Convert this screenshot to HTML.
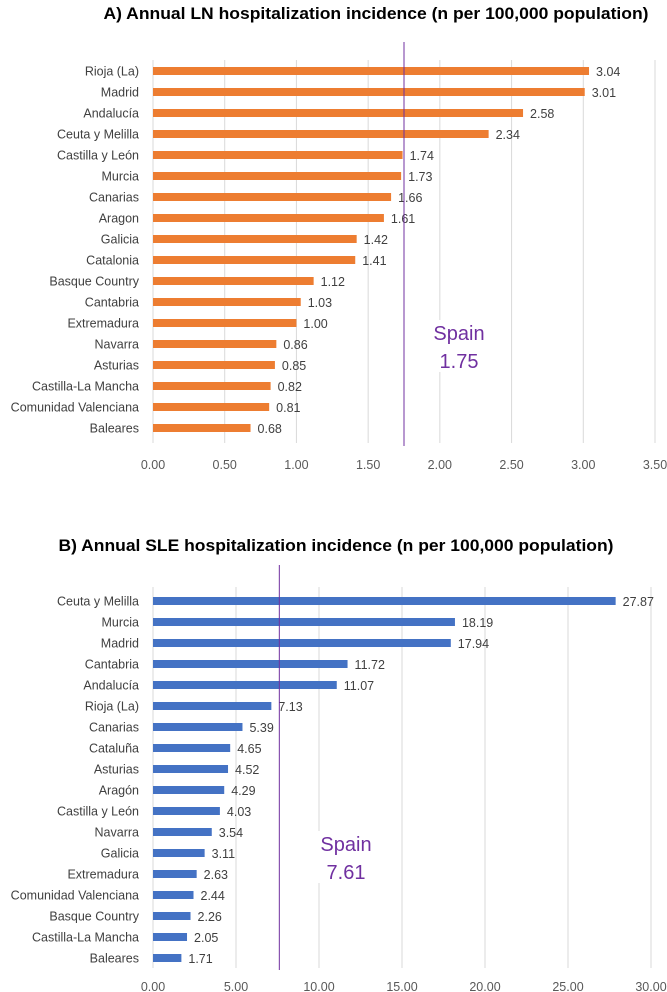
<!DOCTYPE html>
<html><head><meta charset="utf-8"><style>
html,body{margin:0;padding:0;background:#fff;}
svg{display:block;font-family:"Liberation Sans",sans-serif;}
</style></head><body>
<svg id="chart" width="667" height="992" viewBox="0 0 667 992" xmlns="http://www.w3.org/2000/svg"></svg>
<script>
const catsA = ["Rioja (La)","Madrid","Andalucía","Ceuta y Melilla","Castilla y León","Murcia","Canarias","Aragon","Galicia","Catalonia","Basque Country","Cantabria","Extremadura","Navarra","Asturias","Castilla-La Mancha","Comunidad Valenciana","Baleares"];
const valsA = [3.04,3.01,2.58,2.34,1.74,1.73,1.66,1.61,1.42,1.41,1.12,1.03,1.00,0.86,0.85,0.82,0.81,0.68];
const ticksA = [0,0.5,1,1.5,2,2.5,3,3.5];
const spainA = 1.75;
const catsB = ["Ceuta y Melilla","Murcia","Madrid","Cantabria","Andalucía","Rioja (La)","Canarias","Cataluña","Asturias","Aragón","Castilla y León","Navarra","Galicia","Extremadura","Comunidad Valenciana","Basque Country","Castilla-La Mancha","Baleares"];
const valsB = [27.87,18.19,17.94,11.72,11.07,7.13,5.39,4.65,4.52,4.29,4.03,3.54,3.11,2.63,2.44,2.26,2.05,1.71];
const ticksB = [0,5,10,15,20,25,30];
const spainB = 7.61;

const NS="http://www.w3.org/2000/svg";
const svg=document.getElementById('chart');
function mk(tag,attrs,parent){const e=document.createElementNS(NS,tag);for(const k in attrs)e.setAttribute(k,attrs[k]);(parent||svg).appendChild(e);return e;}

function drawChart(o){
  const g=mk('g',{});
  
  
  const x=v=>o.x0+(v-o.min)/(o.max-o.min)*(o.x1-o.x0);
  const y=i=>o.y0+i*o.step;
  const t=mk('text',{x:o.tx,y:o.ty,'text-anchor':'middle','font-size':17,'font-weight':'bold',fill:'#000',textLength:o.tw,lengthAdjust:'spacingAndGlyphs'},g);
  t.textContent=o.title;
  
  
  o.ticks.forEach(v=>{
    const l=mk('line',{x1:x(v),x2:x(v),y1:o.gTop,y2:o.gBot,stroke:'#d9d9d9','stroke-width':1},g);
    
    
    const tl=mk('text',{x:x(v),y:o.axY,'text-anchor':'middle','font-size':12.5,fill:'#595959'},g);
    tl.textContent=v.toFixed(2);
    
    
  });
  o.cats.forEach((c,i)=>{
    const cy=y(i);
    const lab=mk('text',{x:139,y:cy+4.5,'text-anchor':'end','font-size':12.5,fill:'#404040'},g);
    lab.textContent=c;
    
    
    const b=mk('rect',{x:x(0),y:cy-4,width:x(o.vals[i])-x(0),height:8,fill:o.color},g);
    
    
    const vl=mk('text',{x:x(o.vals[i])+7,y:cy+5,'font-size':12.5,fill:'#404040'},g);
    vl.textContent=o.vals[i].toFixed(2);
    
    
  });
  const sl=mk('line',{x1:x(o.spain),x2:x(o.spain),y1:o.sTop,y2:o.sBot,stroke:'#7030a0','stroke-width':1},g);
  
  
  mk('rect',{x:o.spx-28,y:o.spy-20,width:56,height:52,fill:'#fff'},g);
  const s1=mk('text',{x:o.spx,y:o.spy,'text-anchor':'middle','font-size':20,fill:'#7030a0'},g);
  s1.textContent='Spain';
  
  
  const s2=mk('text',{x:o.spx,y:o.spy+28,'text-anchor':'middle','font-size':20,fill:'#7030a0'},g);
  s2.textContent=o.spain.toFixed(2);
  
  
}

drawChart({id:'ln',title:'A) Annual LN hospitalization incidence (n per 100,000 population)',tx:376,ty:19,tw:545,
  cats:catsA,vals:valsA,ticks:ticksA,min:0,max:3.5,x0:153,x1:655,y0:71,step:21.0,gTop:60,gBot:443,axY:469,
  color:'#ed7d31',spain:spainA,sTop:42,sBot:446,spx:459,spy:340});
drawChart({id:'sle',title:'B) Annual SLE hospitalization incidence (n per 100,000 population)',tx:336,ty:551,tw:555,
  cats:catsB,vals:valsB,ticks:ticksB,min:0,max:30,x0:153,x1:651,y0:601,step:21.0,gTop:587,gBot:968,axY:991,
  color:'#4472c4',spain:spainB,sTop:565,sBot:970,spx:346,spy:851});
</script>
</body></html>
